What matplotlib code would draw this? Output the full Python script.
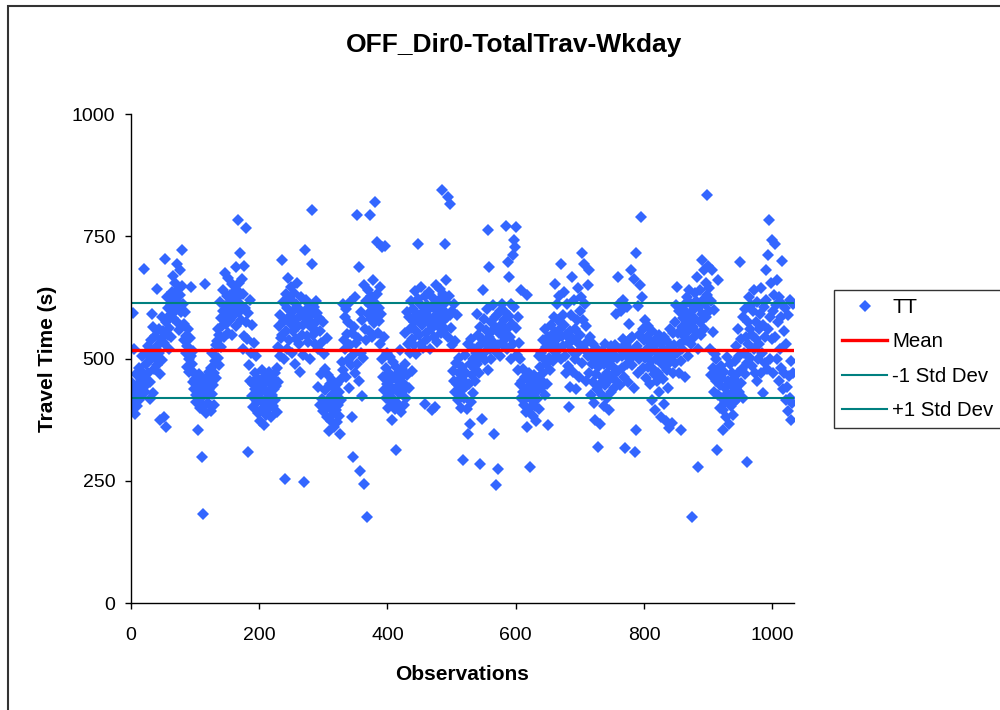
import numpy as np
import matplotlib
matplotlib.use("Agg")
import matplotlib.pyplot as plt
from matplotlib.patches import Rectangle

# travel times (s) in blocks of 100 observations
tt_000 = [452, 398, 431, 593, 520, 412, 440, 386, 468, 425, 403, 447, 415, 480, 436, 458, 421, 505, 442, 470,
          684, 463, 432, 512, 489, 448, 526, 470, 495, 417, 452, 538, 507, 592, 565, 430, 478, 501, 546, 519,
          643, 487, 528, 560, 512, 468, 375, 540, 585, 497, 556, 532, 380, 704, 359, 574, 626, 548, 603, 520,
          562, 590, 611, 545, 636, 583, 668, 620, 597, 655, 604, 694, 640, 572, 615, 558, 681, 630, 595, 648,
          721, 612, 570, 538, 596, 512, 547, 483, 526, 560, 498, 472, 541, 506, 646, 489, 452, 515, 470, 438]
tt_100 = [458, 426, 412, 445, 353, 430, 468, 398, 441, 419, 455, 299, 181, 436, 402, 653, 447, 389, 462, 425,
          410, 473, 438, 456, 392, 481, 427, 512, 446, 470, 404, 495, 528, 461, 536, 502, 560, 487, 548, 615,
          523, 582, 566, 640, 597, 545, 608, 675, 571, 628, 589, 552, 664, 603, 630, 579, 617, 548, 652, 596,
          588, 637, 605, 566, 688, 624, 641, 783, 596, 655, 715, 610, 578, 662, 631, 520, 689, 547, 604, 574,
          766, 540, 593, 309, 486, 619, 455, 512, 423, 568, 448, 401, 532, 470, 437, 505, 412, 460, 389, 445]
tt_200 = [427, 372, 452, 418, 476, 396, 440, 365, 463, 408, 431, 385, 454, 420, 397, 472, 434, 411, 448, 380,
          425, 458, 402, 437, 470, 416, 443, 391, 481, 452, 523, 567, 506, 590, 541, 701, 548, 615, 498, 576,
          254, 632, 557, 520, 603, 664, 585, 538, 621, 570, 647, 512, 598, 556, 633, 488, 579, 612, 540, 655,
          566, 603, 530, 587, 472, 625, 548, 594, 507, 568, 248, 721, 583, 620, 546, 602, 534, 577, 612, 498,
          565, 590, 694, 803, 548, 605, 571, 530, 617, 556, 594, 520, 442, 583, 405, 556, 468, 532, 418, 574]
tt_300 = [392, 510, 436, 478, 404, 542, 380, 466, 415, 351, 447, 398, 372, 425, 456, 387, 410, 360, 438, 395,
          420, 370, 448, 404, 383, 432, 346, 415, 459, 492, 612, 476, 538, 585, 520, 462, 602, 551, 497, 575,
          440, 528, 615, 486, 553, 380, 507, 299, 564, 470, 625, 532, 793, 488, 541, 687, 455, 270, 596, 512,
          423, 578, 502, 650, 244, 560, 617, 538, 176, 592, 640, 556, 610, 793, 581, 628, 545, 660, 597, 572,
          614, 820, 587, 738, 632, 553, 604, 577, 646, 529, 591, 498, 728, 462, 545, 436, 730, 480, 420, 512]
tt_400 = [447, 398, 470, 425, 503, 412, 456, 374, 438, 492, 415, 461, 396, 483, 312, 442, 408, 470, 429, 517,
          455, 390, 478, 432, 466, 405, 448, 488, 552, 420, 596, 467, 530, 585, 440, 512, 618, 563, 474, 540,
          601, 527, 574, 638, 556, 509, 592, 622, 735, 548, 583, 612, 530, 647, 568, 596, 521, 575, 628, 408,
          553, 610, 540, 587, 636, 572, 519, 603, 560, 394, 625, 578, 545, 612, 400, 589, 650, 534, 598, 567,
          620, 588, 642, 553, 607, 844, 576, 632, 598, 560, 735, 660, 615, 584, 830, 545, 627, 590, 817, 562]
tt_500 = [528, 598, 475, 612, 454, 536, 432, 490, 588, 447, 415, 470, 502, 425, 460, 398, 482, 437, 292, 455,
          420, 508, 443, 470, 396, 529, 346, 448, 488, 367, 412, 540, 466, 498, 430, 520, 478, 455, 512, 592,
          488, 548, 526, 470, 285, 565, 503, 377, 540, 640, 512, 580, 497, 558, 530, 602, 476, 762, 687, 545,
          520, 574, 498, 556, 610, 533, 346, 584, 515, 562, 241, 590, 528, 275, 552, 597, 505, 568, 532, 612,
          548, 578, 525, 595, 540, 772, 560, 520, 697, 667, 587, 545, 612, 498, 570, 530, 711, 605, 742, 728]
tt_600 = [562, 769, 508, 585, 476, 532, 448, 498, 420, 640, 455, 432, 478, 405, 462, 418, 390, 630, 360, 441,
          425, 470, 398, 278, 452, 415, 437, 383, 466, 428, 402, 450, 372, 418, 460, 435, 505, 396, 482, 440,
          512, 455, 538, 470, 498, 425, 560, 488, 523, 447, 545, 364, 502, 532, 476, 568, 520, 548, 495, 585,
          530, 653, 555, 505, 612, 540, 578, 520, 628, 560, 498, 694, 547, 590, 526, 636, 568, 505, 470, 548,
          612, 485, 530, 401, 556, 442, 590, 667, 515, 472, 540, 620, 498, 560, 437, 578, 512, 645, 462, 530]
tt_700 = [598, 548, 625, 715, 490, 578, 694, 520, 612, 567, 455, 533, 650, 505, 682, 470, 545, 425, 512, 488,
          452, 530, 410, 497, 374, 468, 520, 438, 483, 319, 506, 447, 367, 492, 425, 515, 460, 402, 488, 530,
          445, 503, 470, 420, 512, 486, 395, 458, 525, 432, 498, 466, 510, 440, 480, 528, 455, 592, 502, 667,
          475, 612, 520, 446, 598, 505, 480, 540, 619, 462, 316, 510, 530, 488, 605, 452, 520, 570, 498, 540,
          680, 486, 545, 510, 440, 662, 309, 715, 353, 525, 470, 608, 548, 498, 650, 512, 790, 626, 560, 480]
tt_800 = [538, 578, 502, 460, 545, 520, 483, 566, 510, 448, 532, 495, 415, 556, 478, 525, 468, 394, 540, 500,
          455, 512, 470, 548, 432, 505, 380, 530, 488, 520, 458, 545, 408, 495, 372, 538, 476, 512, 440, 357,
          560, 492, 525, 368, 506, 470, 552, 528, 490, 575, 610, 646, 512, 553, 470, 598, 530, 495, 353, 565,
          520, 582, 547, 610, 462, 596, 538, 625, 572, 505, 640, 558, 590, 530, 612, 176, 565, 600, 545, 635,
          580, 618, 552, 667, 520, 278, 605, 575, 640, 548, 701, 592, 620, 560, 680, 612, 655, 585, 834, 630]
tt_900 = [690, 598, 645, 520, 617, 466, 680, 555, 480, 600, 432, 510, 455, 498, 312, 425, 660, 470, 446, 398,
          485, 420, 460, 395, 353, 472, 412, 440, 380, 503, 428, 455, 367, 410, 488, 445, 402, 470, 430, 385,
          458, 412, 495, 440, 525, 418, 470, 560, 432, 505, 697, 450, 540, 478, 585, 420, 512, 602, 468, 545,
          490, 288, 575, 530, 626, 502, 560, 610, 485, 548, 598, 520, 640, 470, 575, 540, 455, 615, 498, 560,
          530, 592, 470, 645, 512, 568, 430, 605, 545, 490, 680, 620, 478, 560, 712, 783, 585, 500, 655, 540]
tt_1000 = [742, 598, 470, 630, 545, 735, 610, 500, 660, 575, 455, 626, 520, 585, 480, 700, 612, 438, 556, 470,
           603, 415, 530, 442, 590, 392, 465, 620, 420, 374, 495, 410, 612, 470]

tt = np.array(tt_000 + tt_100 + tt_200 + tt_300 + tt_400 + tt_500 +
              tt_600 + tt_700 + tt_800 + tt_900 + tt_1000, dtype=float)
obs = np.arange(len(tt))

# reference lines
mean_tt = 517
std_tt = 97

plt.rcParams['font.family'] = ['Liberation Sans', 'DejaVu Sans']

fig = plt.figure(figsize=(10, 7.1), dpi=100)
ax = fig.add_axes([0.131, 0.1507, 0.663, 0.6887])

ax.plot(obs, tt, linestyle='none', marker='D', markersize=6.2,
        markerfacecolor='#3366FF', markeredgewidth=0, color='#3366FF', label='TT')
ax.plot([0, obs[-1]], [mean_tt, mean_tt], color='#FF0000', lw=2.4, label='Mean')
ax.plot([0, obs[-1]], [mean_tt - std_tt] * 2, color='#008080', lw=1.5, label='-1 Std Dev')
ax.plot([0, obs[-1]], [mean_tt + std_tt] * 2, color='#008080', lw=1.5, label='+1 Std Dev')

ax.set_xlim(0, 1034)
ax.set_ylim(0, 1000)
ax.set_xticks([0, 200, 400, 600, 800, 1000])
ax.set_yticks([0, 250, 500, 750, 1000])
for s in ['top', 'right']:
    ax.spines[s].set_visible(False)
for s in ['left', 'bottom']:
    ax.spines[s].set_linewidth(1.0)
ax.tick_params(direction='out', length=4.3, width=1.0, labelsize=14)
ax.tick_params(axis='y', pad=7)
ax.tick_params(axis='x', pad=13)

ax.set_xlabel('Observations', fontsize=15, fontweight='bold', labelpad=15)
ax.set_ylabel('Travel Time (s)', fontsize=15, fontweight='bold', labelpad=11)
fig.text(0.514, 1 - 52 / 710, 'OFF_Dir0-TotalTrav-Wkday', fontsize=19, fontweight='bold',
         ha='center', va='baseline')

leg = fig.legend(loc='upper left', bbox_to_anchor=(0.834, 1 - 290 / 710), fontsize=14.7,
                 frameon=True, fancybox=False, edgecolor='black', borderpad=0.4,
                 handlelength=2.2, handletextpad=0.25, labelspacing=0.75, borderaxespad=0)
leg.get_frame().set_linewidth(1.0)

# outer chart-area border (runs off the right and bottom edges)
fig.patches.append(Rectangle((0.008, -0.1), 1.1, 1.0918, transform=fig.transFigure,
                             fill=False, edgecolor='#333333', lw=1.5))

fig.savefig('out.png', dpi=100)
